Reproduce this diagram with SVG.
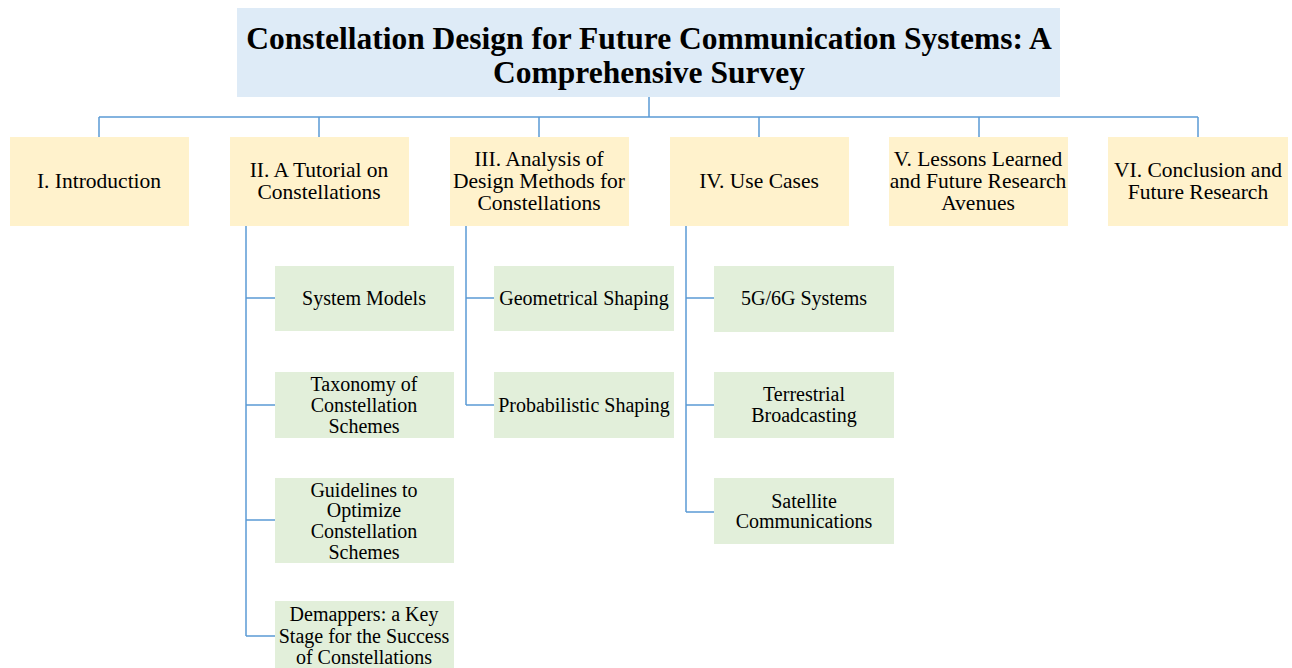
<svg xmlns="http://www.w3.org/2000/svg" width="1292" height="668" viewBox="0 0 1292 668">
<style>
.title{fill:#DEEBF7}
.l1{fill:#FFF2CC}
.l2{fill:#E2EFDA}
text{font-family:"Liberation Serif","Times New Roman",serif;font-size:21.5px;fill:#000;text-anchor:middle}
.s{font-size:20px}
.tt{font-size:31.5px;font-weight:bold}
.c{stroke:#5B9BD5;stroke-width:1.5;fill:none}
</style>
<rect width="1292" height="668" fill="#fff"/>
<g id="connectors" class="c">
<path d="M649 97V117M99 117H1198M99 117V137M319 117V137M539 117V137M759 117V137M979 117V137M1198 117V137"/>
<path d="M246 226V636M246 298H275M246 405H275M246 520H275M246 636H275"/>
<path d="M466 226V405M466 298H494M466 405H494"/>
<path d="M686 226V512M686 298H714M686 405H714M686 512H714"/>
</g>
<g id="root"><rect class="title" x="237" y="8" width="823" height="89"/>
<text class="tt" x="649" y="49">Constellation Design for Future Communication Systems: A</text>
<text class="tt" x="649" y="83">Comprehensive Survey</text></g>
<g id="n1"><rect class="l1" x="10" y="137" width="179" height="89"/><text x="99" y="188">I. Introduction</text></g>
<g id="n2"><rect class="l1" x="230" y="137" width="179" height="89"/><text x="319" y="177">II. A Tutorial on</text><text x="319" y="199">Constellations</text></g>
<g id="n3"><rect class="l1" x="450" y="137" width="179" height="89"/><text x="539" y="166">III. Analysis of</text><text x="539" y="188">Design Methods for</text><text x="539" y="210">Constellations</text></g>
<g id="n4"><rect class="l1" x="670" y="137" width="179" height="89"/><text x="759" y="188">IV. Use Cases</text></g>
<g id="n5"><rect class="l1" x="889" y="137" width="179" height="89"/><text x="978" y="166">V. Lessons Learned</text><text x="978" y="188">and Future Research</text><text x="978" y="210">Avenues</text></g>
<g id="n6"><rect class="l1" x="1108" y="137" width="180" height="89"/><text x="1198" y="177">VI. Conclusion and</text><text x="1198" y="199">Future Research</text></g>
<g id="n2a"><rect class="l2" x="275" y="266" width="179" height="65"/><text class="s" x="364" y="305">System Models</text></g>
<g id="n2b"><rect class="l2" x="275" y="372" width="179" height="66"/><text class="s" x="364" y="391">Taxonomy of</text><text class="s" x="364" y="412">Constellation</text><text class="s" x="364" y="433">Schemes</text></g>
<g id="n2c"><rect class="l2" x="275" y="478" width="179" height="85"/><text class="s" x="364" y="497">Guidelines to</text><text class="s" x="364" y="517">Optimize</text><text class="s" x="364" y="538">Constellation</text><text class="s" x="364" y="559">Schemes</text></g>
<g id="n2d"><rect class="l2" x="275" y="601" width="179" height="70"/><text class="s" x="364" y="621">Demappers: a Key</text><text class="s" x="364" y="643">Stage for the Success</text><text class="s" x="364" y="664">of Constellations</text></g>
<g id="n3a"><rect class="l2" x="494" y="266" width="180" height="65"/><text class="s" x="584" y="305">Geometrical Shaping</text></g>
<g id="n3b"><rect class="l2" x="494" y="372" width="180" height="66"/><text class="s" x="584" y="412">Probabilistic Shaping</text></g>
<g id="n4a"><rect class="l2" x="714" y="266" width="180" height="66"/><text class="s" x="804" y="305">5G/6G Systems</text></g>
<g id="n4b"><rect class="l2" x="714" y="372" width="180" height="66"/><text class="s" x="804" y="401">Terrestrial</text><text class="s" x="804" y="422">Broadcasting</text></g>
<g id="n4c"><rect class="l2" x="714" y="478" width="180" height="66"/><text class="s" x="804" y="508">Satellite</text><text class="s" x="804" y="528">Communications</text></g>
</svg>
